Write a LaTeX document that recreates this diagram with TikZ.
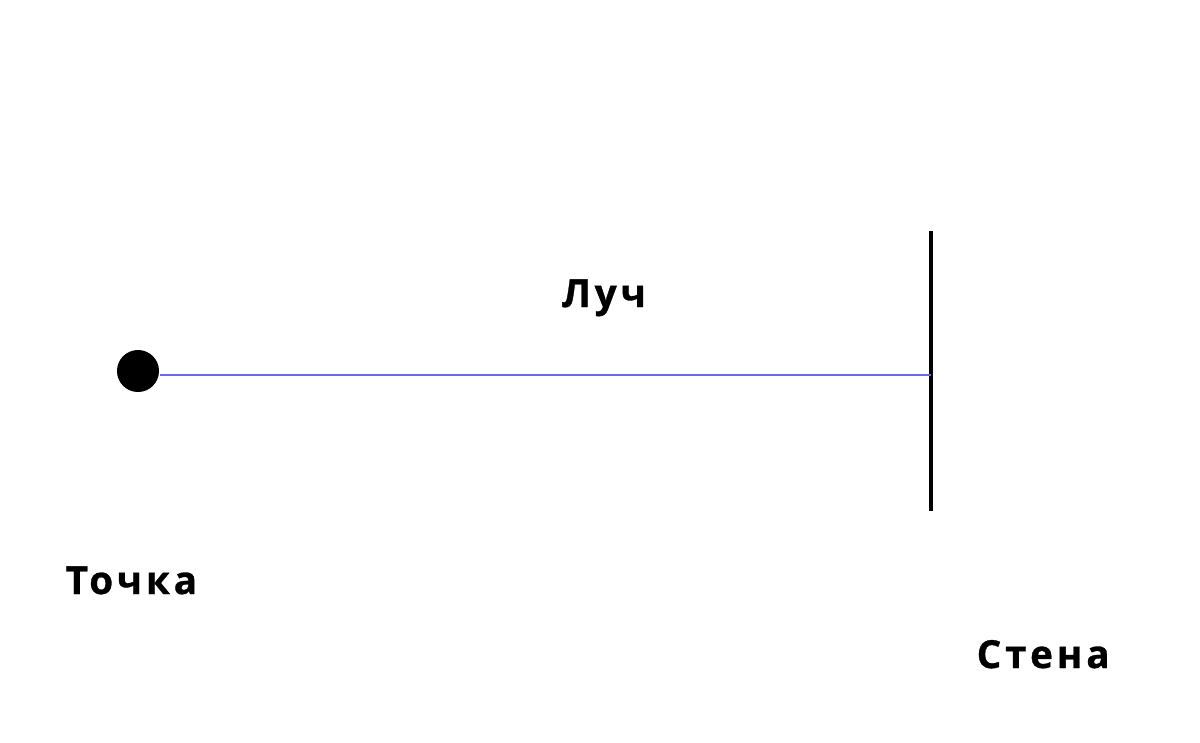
\documentclass[tikz,border=0pt]{standalone}
\usepackage{fontspec}
\setmainfont{Open Sans}[LetterSpace=10, BoldFeatures={FakeBold=0.8}]
\definecolor{raycol}{HTML}{6A6AE8}
\tikzset{
  label text/.style={font=\bfseries\fontsize{11}{13}\selectfont, inner sep=0pt}
}
\begin{document}
\begin{tikzpicture}[x=0.01cm,y=-0.01cm]
  \useasboundingbox (0,0) rectangle (1200,742);

  % point and wall
  \node [circle, fill=black, minimum size=0.42cm, inner sep=0pt] (pt) at (138,371) {};
  \coordinate (walltop) at (931,231);
  \coordinate (wallbot) at (931,511);
  \coordinate (hit) at (931,375);
  \draw [line width=1.1pt] (walltop)--(wallbot);

  % ray
  \coordinate (start) at (pt.east |- hit);
  \draw [raycol, line width=0.3pt] (start)--(hit);

  % labels
  \node [label text, anchor=base] (ray) at (604,307) {Луч};
  \node [label text, anchor=base west] (pointlbl) at (65,594) {Точка};
  \node [label text, anchor=base west] (walllbl) at (976,668) {Стена};
\end{tikzpicture}
\end{document}
